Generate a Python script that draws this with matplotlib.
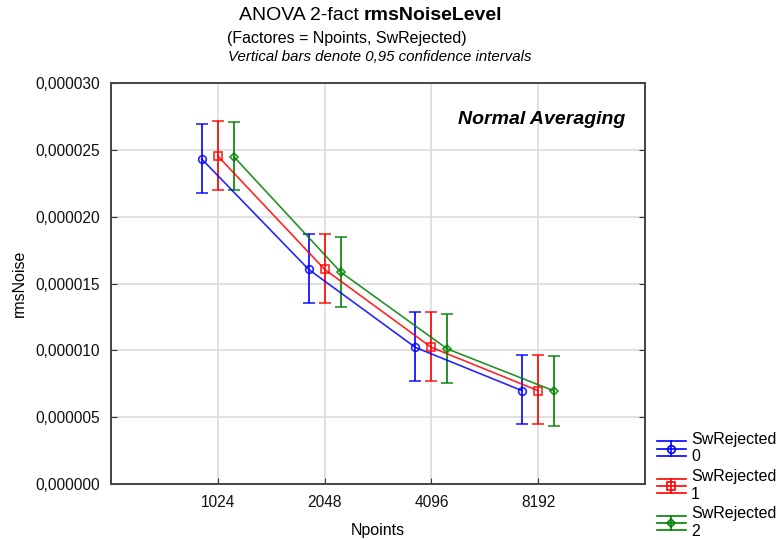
import numpy as np
import matplotlib
matplotlib.use("Agg")
import matplotlib.pyplot as plt
from matplotlib.ticker import FuncFormatter
from matplotlib.lines import Line2D
from matplotlib.legend_handler import HandlerBase

plt.rcParams['font.family'] = ['Liberation Sans', 'DejaVu Sans']

# data (units: 1e-6)
npoints = ["1024", "2048", "4096", "8192"]
groups = ["0", "1", "2"]
mean_sw0 = [24.31, 16.06, 10.22, 6.98]
low_sw0 = [21.79, 13.56, 7.73, 4.46]
high_sw0 = [26.93, 18.68, 12.89, 9.65]
mean_sw1 = [24.54, 16.06, 10.22, 6.98]
low_sw1 = [21.99, 13.56, 7.73, 4.46]
high_sw1 = [27.16, 18.68, 12.89, 9.65]
mean_sw2 = [24.49, 15.86, 10.10, 6.96]
low_sw2 = [21.99, 13.27, 7.56, 4.36]
high_sw2 = [27.06, 18.46, 12.69, 9.58]

series = [
    (mean_sw0, low_sw0, high_sw0, "#0000FF", "o", 5.5),
    (mean_sw1, low_sw1, high_sw1, "#FF0000", "s", 5.5),
    (mean_sw2, low_sw2, high_sw2, "#008000", "D", 3.8),
]
offsets = [-0.15, 0.0, 0.15]


class StatHandler(HandlerBase):
    # legend symbol: three horizontal lines, short vertical bar, marker
    def create_artists(self, legend, orig, xd, yd, width, height, fontsize, trans):
        col, mk, ms = orig
        y0 = height / 2 - yd
        dy = 0.55 * height
        arts = []
        for yy in (y0 - dy, y0, y0 + dy):
            arts.append(Line2D([0 - xd, width - xd], [yy, yy], color=col, lw=1.2))
        xc = width / 2 - xd
        arts.append(Line2D([xc, xc], [y0 - dy, y0 + dy], color=col, lw=1.2))
        arts.append(Line2D([xc], [y0], color=col, marker=mk, markersize=ms,
                           markerfacecolor="none", markeredgewidth=1.2))
        for a in arts:
            a.set_transform(trans)
        return arts


fig = plt.figure(figsize=(7.77, 5.40), dpi=100)
ax = fig.add_axes([111 / 777, 1 - 484 / 540, (645 - 111) / 777, (484 - 83) / 540])

x = np.arange(1, len(npoints) + 1)
keys = []
labels = []
for (m, lo, hi, col, mk, ms), off, g in zip(series, offsets, groups):
    m = np.array(m) * 1e-6
    lo = np.array(lo) * 1e-6
    hi = np.array(hi) * 1e-6
    ax.errorbar(x + off, m, yerr=[m - lo, hi - m], color=col, marker=mk,
                markersize=ms, markerfacecolor="none", markeredgewidth=1.2,
                lw=1.2, elinewidth=1.4, capsize=4.5, capthick=1.3, alpha=0.85)
    keys.append((col, mk, ms))
    labels.append("SwRejected\n" + g)

ax.set_xlim(0, 5)
ax.set_ylim(0, 30e-6)
ax.set_xticks(x)
ax.set_xticklabels(npoints)
ax.set_yticks(np.arange(0, 30.1e-6, 5e-6))
ax.yaxis.set_major_formatter(FuncFormatter(lambda v, p: f"{v:.6f}".replace(".", ",")))
ax.grid(True, color="#dcdcdc", lw=1.2)
ax.set_axisbelow(True)
ax.tick_params(direction="in", length=4, labelsize=11.2, colors="#333333", labelcolor="#111111",
               right=True)
ax.tick_params(axis="x", pad=8)
ax.tick_params(axis="y", pad=8)
for s in ax.spines.values():
    s.set_color("#444444")
    s.set_linewidth(1.4)

ax.set_xlabel("Npoints", fontsize=11.5, labelpad=9)
ax.set_ylabel("rmsNoise", fontsize=11.5, labelpad=6)

ax.text(0.963, 0.91, "Normal Averaging", transform=ax.transAxes, ha="right", va="center",
        fontsize=14, fontweight="bold", fontstyle="italic")

fig.text(359 / 777, 1 - 16 / 540, "ANOVA 2-fact", ha="right", va="center", fontsize=14)
fig.text(364 / 777, 1 - 16 / 540, "rmsNoiseLevel", ha="left", va="center", fontsize=14,
         fontweight="bold")
fig.text(227 / 777, 1 - 38 / 540, "(Factores = Npoints, SwRejected)", ha="left", va="center",
         fontsize=11.5)
fig.text(228 / 777, 1 - 57 / 540, "Vertical bars denote 0,95 confidence intervals", ha="left",
         va="center", fontsize=10.8, fontstyle="italic")

fig.legend(keys, labels, handler_map={tuple: StatHandler()}, loc="upper left",
           bbox_to_anchor=(657 / 777, 1 - 432 / 540), frameon=False, fontsize=11.5,
           handlelength=1.8, handleheight=0.9, handletextpad=0.33, labelspacing=0.3,
           borderaxespad=0, borderpad=0)

fig.savefig("out.png", dpi=100)
